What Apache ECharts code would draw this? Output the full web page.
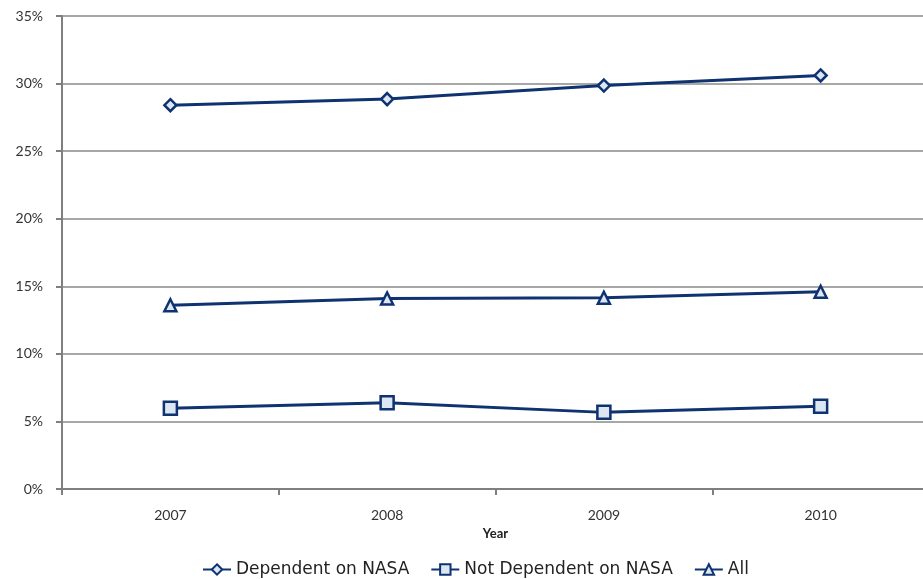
<!DOCTYPE html>
<html>
<head>
<meta charset="utf-8">
<script src="https://cdn.jsdelivr.net/npm/echarts@6/dist/echarts.min.js"></script>
<style>html,body{margin:0;padding:0;background:#fff;overflow:hidden;width:923px;height:579px}#c{width:929px;height:579px}</style>
</head>
<body>
<div id="c"></div>
<script>
var years = ['2007', '2008', '2009', '2010'];
var dependent = [28.4, 28.85, 29.85, 30.6];
var notDependent = [5.97, 6.38, 5.67, 6.12];
var allValues = [13.6, 14.1, 14.15, 14.6];
var yTicks = [0, 5, 10, 15, 20, 25, 30, 35];

var LINE = '#0f3270';
var FILL = '#dde7f3';
var FONT = 'Lato, "Liberation Sans", sans-serif';
var LFONT = '"DejaVu Sans", sans-serif';

function mk(name, data, symbol, size) {
  return {
    name: name, type: 'line', data: data,
    symbol: symbol, symbolSize: size,
    lineStyle: { color: LINE, width: 3 },
    itemStyle: { color: FILL, borderColor: LINE, borderWidth: 2.5 },
    emphasis: { disabled: true },
    animation: false
  };
}

var chart = echarts.init(document.getElementById('c'));
chart.setOption({
  backgroundColor: '#fff',
  animation: false,
  grid: { left: 62, top: 16, right: 0, bottom: 90, containLabel: false },
  legend: {
    left: 197, top: 556,
    itemWidth: 28, itemHeight: 13, itemGap: 21,
    textStyle: { fontFamily: LFONT, fontSize: 17, color: '#222' },
    data: ['Dependent on NASA', 'Not Dependent on NASA', 'All']
  },
  xAxis: {
    type: 'category', data: years, boundaryGap: true,
    name: 'Year', nameLocation: 'middle', nameGap: 36,
    nameTextStyle: { fontFamily: FONT, fontSize: 13, fontWeight: 'bold', color: '#222' },
    axisLine: { lineStyle: { color: '#7f7f7f', width: 2 } },
    axisTick: { show: true, inside: false, length: 6, alignWithLabel: false, lineStyle: { color: '#7f7f7f', width: 2 } },
    axisLabel: { fontFamily: FONT, fontSize: 14, color: '#333', margin: 19 },
    splitLine: { show: false }
  },
  yAxis: {
    type: 'value', min: 0, max: 35, interval: 5,
    axisLine: { show: true, lineStyle: { color: '#7f7f7f', width: 2 } },
    axisTick: { show: true, inside: false, length: 6, lineStyle: { color: '#7f7f7f', width: 2 } },
    axisLabel: {
      fontFamily: FONT, fontSize: 14, color: '#333', margin: 19,
      formatter: function (v) { return yTicks.indexOf(v) >= 0 ? v + '%' : ''; }
    },
    splitLine: { show: true, lineStyle: { color: '#8a8a8a', width: 1.5 } }
  },
  series: [
    mk('Dependent on NASA', dependent, 'diamond', 12),
    mk('Not Dependent on NASA', notDependent, 'rect', 13),
    mk('All', allValues, 'triangle', 12)
  ]
});
</script>
</body>
</html>
